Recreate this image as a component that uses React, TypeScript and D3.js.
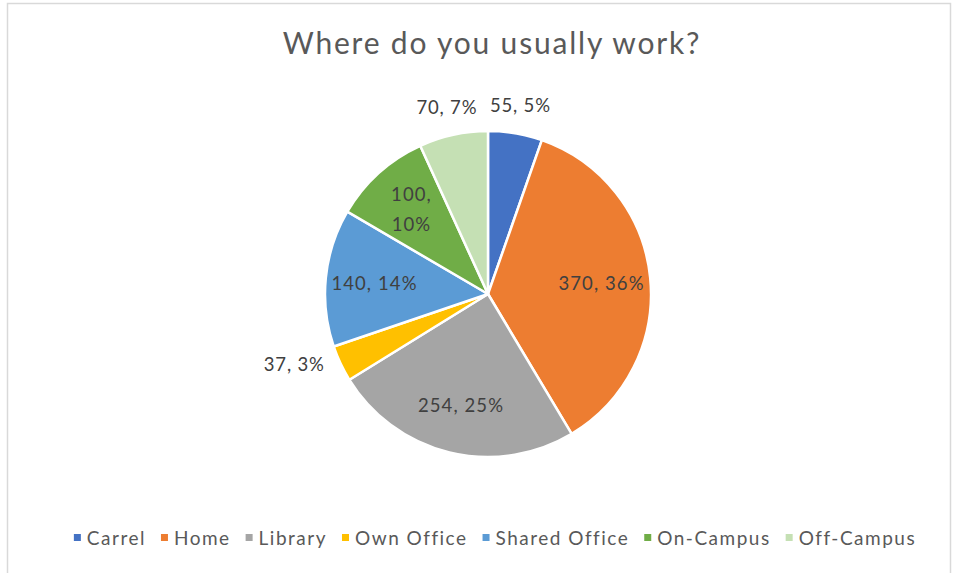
import { useEffect, useRef } from "react";
import * as d3 from "d3";

const categories = ["Carrel", "Home", "Library", "Own Office", "Shared Office", "On-Campus", "Off-Campus"];
const counts = [55, 370, 254, 37, 140, 100, 70];
const percents = [5, 36, 25, 3, 14, 10, 7];
const colors = ["#4472C4", "#ED7D31", "#A5A5A5", "#FFC000", "#5B9BD5", "#70AD47", "#C5E0B4"];
// slices whose labels sit outside the pie
const outsideLabels = ["Carrel", "Own Office", "Off-Campus"];

const W = 954;
const H = 573;
const FONT = "Lato, 'Open Sans', sans-serif";

export default function App() {
  const svgRef = useRef<SVGSVGElement>(null);

  useEffect(() => {
    const svg = d3.select(svgRef.current).html(null);

    svg.append("rect").attr("width", W).attr("height", H).attr("fill", "#fff");
    svg.append("rect")
      .attr("x", 7.5).attr("y", 3.5)
      .attr("width", 943).attr("height", 620)
      .attr("fill", "none")
      .attr("stroke", "#d9d9d9")
      .attr("stroke-width", 1.5);

    svg.append("text")
      .attr("x", 492).attr("y", 54)
      .attr("text-anchor", "middle")
      .style("font-family", FONT)
      .style("font-size", "30px")
      .style("letter-spacing", "1.8px")
      .style("fill", "#595959")
      .text("Where do you usually work?");

    const cx = 488;
    const cy = 294;
    const R = 163;

    const data = categories.map((c, i) => ({ name: c, count: counts[i], pct: percents[i], color: colors[i] }));
    const pie = d3.pie<typeof data[number]>().value(d => d.count).sort(null);
    const arcs = pie(data);
    const arc = d3.arc<d3.PieArcDatum<typeof data[number]>>().innerRadius(0).outerRadius(R);

    const g = svg.append("g").attr("transform", `translate(${cx},${cy})`);
    g.selectAll("path")
      .data(arcs)
      .join("path")
      .attr("d", arc)
      .attr("fill", d => d.data.color)
      .attr("stroke", "#fff")
      .attr("stroke-width", 2.5)
      .attr("stroke-linejoin", "round");

    const labelFont = "18.5px";
    arcs.forEach(a => {
      const mid = (a.startAngle + a.endAngle) / 2;
      const s = Math.sin(mid);
      const c = -Math.cos(mid);
      const outside = outsideLabels.includes(a.data.name);
      const t = g.append("text")
        .style("font-family", FONT)
        .style("font-size", labelFont)
        .style("letter-spacing", outside ? "0.8px" : "1.1px")
        .style("fill", "#404040")
        .attr("text-anchor", "middle");
      if (!outside) {
        const r = R * 0.7;
        const x = s * r;
        const y = c * r;
        if (a.data.name === "On-Campus") {
          t.append("tspan").attr("x", x).attr("y", y - 8).text(`${a.data.count},`);
          t.append("tspan").attr("x", x).attr("y", y + 22).text(`${a.data.pct}%`);
        } else {
          t.attr("x", x).attr("y", y + 7).text(`${a.data.count}, ${a.data.pct}%`);
        }
      } else {
        t.text(`${a.data.count}, ${a.data.pct}%`);
        const w = (t.node() as SVGTextElement).getComputedTextLength();
        const h = 24;
        const gap = 16;
        const px = s * R;
        const py = c * R;
        let x = px;
        let y = py;
        if (Math.abs(s) > Math.abs(c)) {
          x = px + Math.sign(s) * (gap + w / 2);
        } else {
          x = px + s * w / 2;
          y = py + Math.sign(c) * (gap + h / 2);
        }
        t.attr("x", x).attr("y", y + 7);
      }
    });

    // legend
    const legend = svg.append("g");
    let lx = 0;
    data.forEach(d => {
      const item = legend.append("g").attr("transform", `translate(${lx},0)`);
      item.append("rect")
        .attr("x", 0).attr("y", -4)
        .attr("width", 7).attr("height", 7)
        .attr("fill", d.color);
      const t = item.append("text")
        .attr("x", 13).attr("y", 6.5)
        .style("font-family", FONT)
        .style("font-size", "19px")
        .style("letter-spacing", "1.5px")
        .style("fill", "#595959")
        .text(d.name);
      lx += 13 + (t.node() as SVGTextElement).getComputedTextLength() + 15;
    });
    const total = lx - 15;
    legend.attr("transform", `translate(${495 - total / 2},538)`);
  }, []);

  return (
    <svg
      ref={svgRef}
      width={W}
      height={H}
      style={{ position: "absolute", left: 0, top: 0 }}
    />
  );
}
